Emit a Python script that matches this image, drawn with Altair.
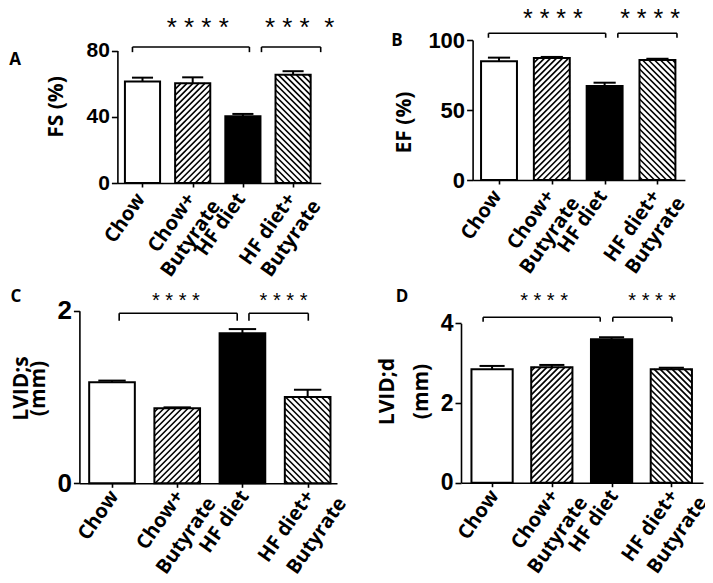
import json
import altair as alt
import pandas as pd

# ---------------- data ----------------
groups = ["Chow", "Chow+Butyrate", "HF diet", "HF diet+Butyrate"]
label_lines = [["Chow"], ["Chow+", "Butyrate"], ["HF diet"], ["HF diet+", "Butyrate"]]
fills = ["white", "white", "black", "white"]
hatch_dir = ["", "/", "", "\\"]

fs_mean = [61.3, 60.3, 40.3, 65.3]
fs_sem = [2.3, 3.5, 1.4, 2.2]
ef_mean = [84.8, 87.2, 67.1, 85.7]
ef_sem = [2.6, 0.7, 2.4, 0.9]
lvids_mean = [1.17, 0.87, 1.74, 1.00]
lvids_sem = [0.02, 0.01, 0.047, 0.084]
lvidd_mean = [2.85, 2.90, 3.60, 2.85]
lvidd_sem = [0.08, 0.055, 0.05, 0.035]

# significance brackets (from / to, in category units) and star labels
fs_brackets = [(-0.2, 2.13), (2.37, 3.55)]
ef_brackets = [(-0.2, 2.02), (2.25, 3.37)]
lvids_brackets = [(0.11, 1.92), (2.10, 3.01)]
lvidd_brackets = [(-0.15, 1.81), (2.02, 3.01)]
fs_stars = ["* * * *", "* * *\u00a0\u00a0*"]
ef_stars = ["* * * *", "* * * *"]
lvids_stars = ["* * * *", "* * * *"]
lvidd_stars = ["* * * *", "* * * *"]
fs_star_x = [1.10, 3.13]
ef_star_x = [1.02, 2.86]
lvids_star_x = [0.98, 2.63]
lvidd_star_x = [0.87, 2.68]
panel_letters = ["A", "B", "C", "D"]

W, H = 697, 575
line1 = [l[0] for l in label_lines]
line2 = [l[1] if len(l) > 1 else "" for l in label_lines]
EXPR1 = json.dumps(line1) + "[datum.value]"
EXPR2 = json.dumps(line2) + "[datum.value]"


def hatch(center, hw, value, sx, sy, direction, step=6.0):
    w = 2 * hw * sx
    h = value * sy
    x0 = center - hw
    segs = []
    if direction == "/":
        d = -w + step / 2
        while d < h:
            xa, xb = max(0.0, -d), min(w, h - d)
            if xb > xa:
                segs.append(dict(x=x0 + xa / sx, y=(xa + d) / sy,
                                 x2=x0 + xb / sx, y2=(xb + d) / sy))
            d += step
    elif direction == "\\":
        d = step / 2
        while d < w + h:
            xa, xb = max(0.0, d - h), min(w, d)
            if xb > xa:
                segs.append(dict(x=x0 + xa / sx, y=(d - xa) / sy,
                                 x2=x0 + xb / sx, y2=(d - xb) / sy))
            d += step
    return segs


def x_axis(offset, expr, values, lab_off, lab_pad, visible):
    return alt.Axis(orient="bottom", offset=offset, values=values,
                    labelExpr=expr, labelAngle=-55, labelAlign="right",
                    labelBaseline="middle", labelFont="Open Sans", labelFontSize=20,
                    labelFontWeight="bold", labelColor="black",
                    labelOffset=lab_off, labelPadding=lab_pad,
                    labelFlush=False, labelOverlap=False, labelBound=False,
                    tickSize=4, tickWidth=1.6, tickColor="black",
                    tickOpacity=1 if visible else 0, domain=visible,
                    domainColor="black", domainWidth=1.6, grid=False, title=None)


def panel(means, sems, hw, xdom, xrng, ydom, yrng, yticks, ylab_size,
          ytitle, title_x, title_y, title_lh, brackets, br_y, br_low,
          stars, star_x, star_y, star_size, lab1, lab2):
    sx = (xrng[1] - xrng[0]) / (xdom[1] - xdom[0])
    sy = (yrng[0] - yrng[1]) / (ydom[1] - ydom[0])

    def xs():
        return alt.Scale(domain=xdom, range=xrng, nice=False, zero=False)

    def ys():
        return alt.Scale(domain=ydom, range=yrng, nice=False, zero=False)

    df = pd.DataFrame({"i": list(range(4)), "group": groups, "v": means, "e": sems})
    df["lo"] = df["i"] - hw
    df["hi"] = df["i"] + hw
    df["zero"] = 0.0
    df["top"] = df["v"] + df["e"]
    df["clo"] = df["i"] - 0.21
    df["chi"] = df["i"] + 0.21

    ax1 = x_axis(yrng[0] - H, EXPR1, [0, 1, 2, 3], lab1[0], lab1[1], True)
    ax2 = x_axis(yrng[0] - H, EXPR2, [1, 3], lab2[0], lab2[1], False)
    yaxis = alt.Axis(orient="left", offset=-xrng[0], values=yticks, format="d",
                     labelFont="Liberation Sans", labelFontSize=ylab_size,
                     labelFontWeight="bold", labelColor="black", labelPadding=2,
                     labelOverlap=False, labelFlush=False,
                     tickSize=6, tickWidth=1.6, tickColor="black",
                     domainColor="black", domainWidth=1.6, grid=False,
                     title=ytitle, titleX=title_x, titleY=title_y, titleAngle=270,
                     titleAlign="center", titleBaseline="middle",
                     titleFont="Open Sans", titleFontSize=21, titleFontWeight="bold",
                     titleColor="black", titleLineHeight=title_lh)

    base = alt.Chart(df)
    fill_scale = alt.Scale(domain=groups, range=fills)
    bars = base.mark_rect().encode(
        x=alt.X("lo:Q", scale=xs(), axis=ax1), x2="hi:Q",
        y=alt.Y("v:Q", scale=ys(), axis=yaxis), y2="zero:Q",
        fill=alt.Fill("group:N", scale=fill_scale, legend=None),
    )
    segs = []
    for i in range(4):
        segs += hatch(i, hw, means[i], sx, sy, hatch_dir[i])
    hatch_layer = alt.Chart(pd.DataFrame(segs)).mark_rule(
        color="black", strokeWidth=1.6).encode(
        x=alt.X("x:Q", scale=xs(), axis=None), x2="x2:Q",
        y=alt.Y("y:Q", scale=ys(), axis=None), y2="y2:Q")
    outline = base.mark_rect(fillOpacity=0, stroke="black", strokeWidth=2).encode(
        x=alt.X("lo:Q", scale=xs(), axis=ax2), x2="hi:Q",
        y=alt.Y("v:Q", scale=ys(), axis=None), y2="zero:Q")
    stem = base.mark_rule(color="black", strokeWidth=2).encode(
        x=alt.X("i:Q", scale=xs(), axis=None),
        y=alt.Y("v:Q", scale=ys(), axis=None), y2="top:Q")
    cap = base.mark_rule(color="black", strokeWidth=2).encode(
        x=alt.X("clo:Q", scale=xs(), axis=None), x2="chi:Q",
        y=alt.Y("top:Q", scale=ys(), axis=None))

    brows = []
    for a, b in brackets:
        brows.append(dict(x=a, x2=b, y=br_y, y2=br_y))
        brows.append(dict(x=a, x2=a, y=br_y, y2=br_low))
        brows.append(dict(x=b, x2=b, y=br_y, y2=br_low))
    br = alt.Chart(pd.DataFrame(brows)).mark_rule(color="black", strokeWidth=1.6).encode(
        x=alt.X("x:Q", scale=xs(), axis=None), x2="x2:Q",
        y=alt.Y("y:Q", scale=ys(), axis=None), y2="y2:Q")
    sdf = pd.DataFrame({"sx": star_x, "sy": [star_y] * len(stars), "txt": stars})
    st = alt.Chart(sdf).mark_text(font="Liberation Sans", fontSize=star_size,
                                  baseline="alphabetic", align="center",
                                  color="black").encode(
        x=alt.X("sx:Q", scale=xs(), axis=None),
        y=alt.Y("sy:Q", scale=ys(), axis=None), text="txt:N")
    return [bars, hatch_layer, outline, stem, cap, br, st]


pA = panel(fs_mean, fs_sem, 0.35, [-0.5, 3.55], [109.4, 312.7], [0, 80], [175, 42.5],
           [0, 40, 80], 21, "FS (%)", -61, 98.5, 22,
           fs_brackets, 82.1, 79.0, fs_stars, fs_star_x, 89.0, 26, (-2, 8), (23, 15))
pB = panel(ef_mean, ef_sem, 0.34, [-0.5, 3.52], [464.6, 676.9], [0, 100], [172, 32],
           [0, 50, 100], 22, "EF (%)", -68, 114, 22,
           ef_brackets, 104.8, 101.6, ef_stars, ef_star_x, 109.0, 25, (-2, 8), (23, 15))
pC = panel(lvids_mean, lvids_sem, 0.35, [-0.5, 3.45], [71.4, 329], [0, 2], [475.3, 302.7],
           [0, 1, 2], 26, ["LVID;s", "(mm)"], -57.5, 380, 17,
           lvids_brackets, 1.97, 1.884, lvids_stars, lvids_star_x, 2.042, 20, (2, 5), (34, 12))
pD = panel(lvidd_mean, lvidd_sem, 0.345, [-0.52, 3.53], [453, 695], [0, 4], [474.7, 315.3],
           [0, 2, 4], 23, ["LVID;d", "(mm)"], -74, 383, 34,
           lvidd_brackets, 4.15, 4.04, lvidd_stars, lvidd_star_x, 4.41, 20, (2, 5), (31, 12))

letter_pos = [(7, 52), (389, 33), (8, 289), (394, 289)]
letters = []
for t, (px, py) in zip(panel_letters, letter_pos):
    letters.append(
        alt.Chart(pd.DataFrame({"t": [t]})).mark_text(
            font="Open Sans", fontSize=17, fontWeight="bold", color="black",
            align="center", baseline="middle").encode(
            text="t:N", x=alt.value(px), y=alt.value(py)))

chart = alt.layer(*(pA + pB + pC + pD + letters)).resolve_scale(
    x="independent", y="independent"
).properties(
    width=W, height=H, padding=0, autosize=alt.AutoSizeParams(type="none")
).configure_view(strokeWidth=0)

chart.save("out.html", embed_options={"renderer": "svg", "actions": False})
